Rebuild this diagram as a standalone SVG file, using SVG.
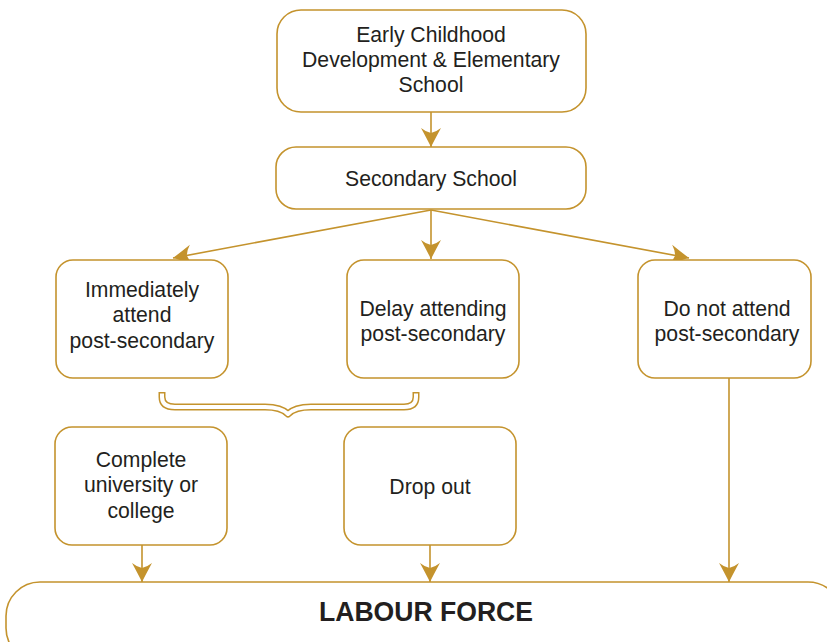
<svg xmlns="http://www.w3.org/2000/svg" width="827" height="642" viewBox="0 0 827 642">
  <style>
    .box { fill: #ffffff; stroke: #c4932d; stroke-width: 1.6; }
    .lbl { font-family: "Liberation Sans", Arial, sans-serif; font-size: 21.2px; fill: #231f20; text-anchor: middle; }
    .big { font-family: "Liberation Sans", Arial, sans-serif; font-size: 27px; font-weight: bold; fill: #231f20; text-anchor: middle; }
    .link { fill: none; stroke: #c4932d; stroke-width: 1.6; marker-end: url(#head); }
  </style>
  <defs>
    <marker id="head" markerUnits="userSpaceOnUse" markerWidth="24" markerHeight="24" viewBox="-21 -12 24 24" refX="0" refY="0" orient="auto">
      <path d="M0,0 Q-8,-4 -19,-10 Q-15,-5 -14,0 Q-15,5 -19,10 Q-8,4 0,0 Z" fill="#c4932d"/>
    </marker>
  </defs>
  <rect width="827" height="642" fill="#ffffff"/>

  <g id="connectors">
    <path class="link" d="M431,112 V147"/>
    <path class="link" d="M431,210 L173,258"/>
    <path class="link" d="M431,210 V259"/>
    <path class="link" d="M431,210 L689,258"/>
    <path class="link" d="M142,545 V582"/>
    <path class="link" d="M430,545 V582"/>
    <path class="link" d="M729,378 V582"/>
    <!-- double-line brace joining the two attending branches -->
    <g id="brace" fill="none" stroke-linejoin="round">
      <path d="M162,392 V397 Q162,407 175,407 H265 Q281,407 288,414 Q295,407 311,407 H404 Q416,407 416,397 V392" stroke="#c4932d" stroke-width="7"/>
      <path d="M162,393.6 V397 Q162,407 175,407 H265 Q281,407 288,414 Q295,407 311,407 H404 Q416,407 416,397 V393.6" stroke="#ffffff" stroke-width="4"/>
    </g>
  </g>

  <g id="early">
    <rect class="box" x="277" y="10" width="309" height="102" rx="24"/>
    <text class="lbl" x="431" y="42">Early Childhood</text>
    <text class="lbl" x="431" y="67">Development &amp; Elementary</text>
    <text class="lbl" x="431" y="92">School</text>
  </g>
  <g id="secondary">
    <rect class="box" x="276" y="147" width="310" height="62" rx="20"/>
    <text class="lbl" x="431" y="186">Secondary School</text>
  </g>
  <g id="immediately">
    <rect class="box" x="56" y="260" width="172" height="118" rx="17"/>
    <text class="lbl" x="142" y="297">Immediately</text>
    <text class="lbl" x="142" y="322">attend</text>
    <text class="lbl" x="142" y="348">post-secondary</text>
  </g>
  <g id="delay">
    <rect class="box" x="347" y="260" width="172" height="118" rx="17"/>
    <text class="lbl" x="433" y="316">Delay attending</text>
    <text class="lbl" x="433" y="341">post-secondary</text>
  </g>
  <g id="notattend">
    <rect class="box" x="638" y="260" width="173" height="118" rx="17"/>
    <text class="lbl" x="727" y="316">Do not attend</text>
    <text class="lbl" x="727" y="341">post-secondary</text>
  </g>
  <g id="complete">
    <rect class="box" x="55" y="427" width="172" height="118" rx="17"/>
    <text class="lbl" x="141" y="467">Complete</text>
    <text class="lbl" x="141" y="492">university or</text>
    <text class="lbl" x="141" y="518">college</text>
  </g>
  <g id="dropout">
    <rect class="box" x="344" y="427" width="172" height="118" rx="17"/>
    <text class="lbl" x="430" y="494">Drop out</text>
  </g>
  <g id="labour">
    <rect class="box" x="6" y="582" width="836" height="80" rx="34"/>
    <text class="big" x="426" y="621" textLength="214" lengthAdjust="spacingAndGlyphs">LABOUR FORCE</text>
  </g>
</svg>
